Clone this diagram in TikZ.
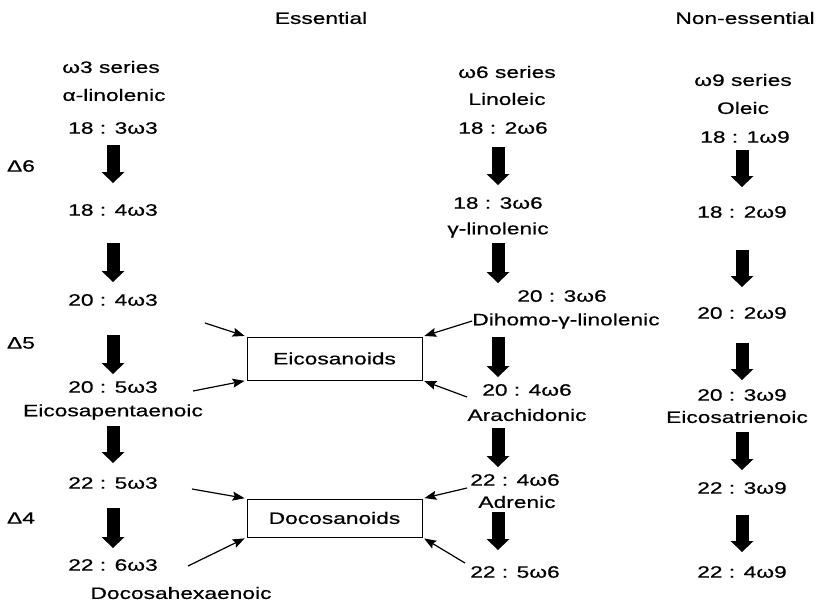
\documentclass[tikz,border=0pt]{standalone}
\usepackage{fontspec}
\setmainfont{Liberation Sans}[FakeStretch=1.38,FakeBold=0.6]
\usetikzlibrary{arrows.meta}
\tikzset{
    lbl/.style={inner sep=0pt, font=\fontsize{16.5}{19}\selectfont},
    fat/.style={line width=13pt, -{Triangle[width=23pt,length=11pt,line width=0pt]}},
    thinarrow/.style={line width=1.2pt, -{Stealth[length=12pt,width=9pt,inset=2pt]}, shorten >=2pt},
    sink/.style={draw, line width=0.9pt, minimum width=175pt, inner sep=0pt, font=\fontsize{16.5}{19}\selectfont},
}

\begin{document}
\begin{tikzpicture}[x=1pt,y=-1pt]
\useasboundingbox (0,0) rectangle (818,608);

\node[lbl] (ess) at (321,18) {Essential};
\node[lbl] (ness) at (745,18) {Non-essential};

% omega 3
\node[lbl] (s3) at (111,67) {ω3 series};
\node[lbl] (n3) at (114,95) {α-linolenic};
\node[lbl] (a1) at (113,128) {18 : 3ω3};
\node[lbl] (a2) at (113,210) {18 : 4ω3};
\node[lbl] (a3) at (113,300) {20 : 4ω3};
\node[lbl] (a4) at (113,387) {20 : 5ω3};
\node[lbl] (epa) at (113,412) {Eicosapentaenoic};
\node[lbl] (a5) at (113,483) {22 : 5ω3};
\node[lbl] (a6) at (113,565) {22 : 6ω3};
\node[lbl] (dha) at (181,593) {Docosahexaenoic};

\node[lbl] (d6) at (21,166) {Δ6};
\node[lbl] (d5) at (21,343) {Δ5};
\node[lbl] (d4) at (21,518) {Δ4};

% omega 6
\node[lbl] (s6) at (507,72) {ω6 series};
\node[lbl] (n6) at (507,99) {Linoleic};
\node[lbl] (b1) at (503,128) {18 : 2ω6};
\node[lbl] (b2) at (498,203) {18 : 3ω6};
\node[lbl] (gl) at (498,230) {γ-linolenic};
\node[lbl] (b3) at (562,296) {20 : 3ω6};
\node[lbl] (dgl) at (566,321) {Dihomo-γ-linolenic};
\node[lbl] (b4) at (527,390) {20 : 4ω6};
\node[lbl] (ara) at (527,415) {Arachidonic};
\node[lbl] (b5) at (515,480) {22 : 4ω6};
\node[lbl] (adr) at (517,502) {Adrenic};
\node[lbl] (b6) at (515,572) {22 : 5ω6};

% omega 9
\node[lbl] (s9) at (743,80) {ω9 series};
\node[lbl] (n9) at (743,108) {Oleic};
\node[lbl] (c1) at (745,137) {18 : 1ω9};
\node[lbl] (c2) at (742,212) {18 : 2ω9};
\node[lbl] (c3) at (742,313) {20 : 2ω9};
\node[lbl] (c4) at (742,395) {20 : 3ω9};
\node[lbl] (eta) at (737,417) {Eicosatrienoic};
\node[lbl] (c5) at (742,488) {22 : 3ω9};
\node[lbl] (c6) at (742,572) {22 : 4ω9};

% products
\node[sink, minimum height=43pt] (eic) at (334.5,358.5) {Eicosanoids};
\node[sink, minimum height=38pt] (doc) at (334.5,518) {Docosanoids};

% desaturation / elongation steps
\draw[fat, shorten <=17pt, shorten >=27pt] (a1.center) -- (a2.center);
\draw[fat, shorten <=33pt, shorten >=18pt] (a2.center) -- (a3.center);
\draw[fat, shorten <=35pt, shorten >=13pt] (a3.center) -- (a4.center);
\draw[fat, shorten <=14pt, shorten >=20pt] (epa.center) -- (a5.center);
\draw[fat, shorten <=25pt, shorten >=17pt] (a5.center) -- (a6.center);

\draw[fat, shorten <=19pt, shorten >=18pt] (b2 |- b1) -- (b2.center);
\draw[fat, shorten <=13pt, shorten >=13pt] (gl.center) -- (gl |- b3);
\draw[fat, shorten <=16pt, shorten >=13pt] (gl |- dgl) -- (gl |- b4);
\draw[fat, shorten <=13pt, shorten >=13pt] (gl |- ara) -- (gl |- b5);
\draw[fat, shorten <=10pt, shorten >=22pt] (gl |- adr) -- (gl |- b6);

\draw[fat, shorten <=13pt, shorten >=25pt] (c2 |- c1) -- (c2.center);
\draw[fat, shorten <=38pt, shorten >=26pt] (c2.center) -- (c3.center);
\draw[fat, shorten <=30pt, shorten >=15pt] (c3.center) -- (c4.center);
\draw[fat, shorten <=15pt, shorten >=18pt] (c5 |- eta) -- (c5.center);
\draw[fat, shorten <=27pt, shorten >=20pt] (c5.center) -- (c6.center);

% feeds into the boxes
\coordinate (f1) at (205,323);
\coordinate (f2) at (193,391);
\coordinate (f3) at (192,489);
\coordinate (f4) at (188,566);
\coordinate (g2) at (467,397);
\coordinate (g3) at (467,488);
\coordinate (g4) at (465,563);
\draw[thinarrow] (f1) -- (eic.north west);
\draw[thinarrow] (f2) -- (eic.south west);
\draw[thinarrow] (dgl.west) -- (eic.north east);
\draw[thinarrow] (g2) -- (eic.south east);
\draw[thinarrow] (f3) -- (doc.north west);
\draw[thinarrow] (f4) -- (doc.south west);
\draw[thinarrow] (g3) -- (doc.north east);
\draw[thinarrow] (g4) -- (doc.south east);
\end{tikzpicture}
\end{document}
